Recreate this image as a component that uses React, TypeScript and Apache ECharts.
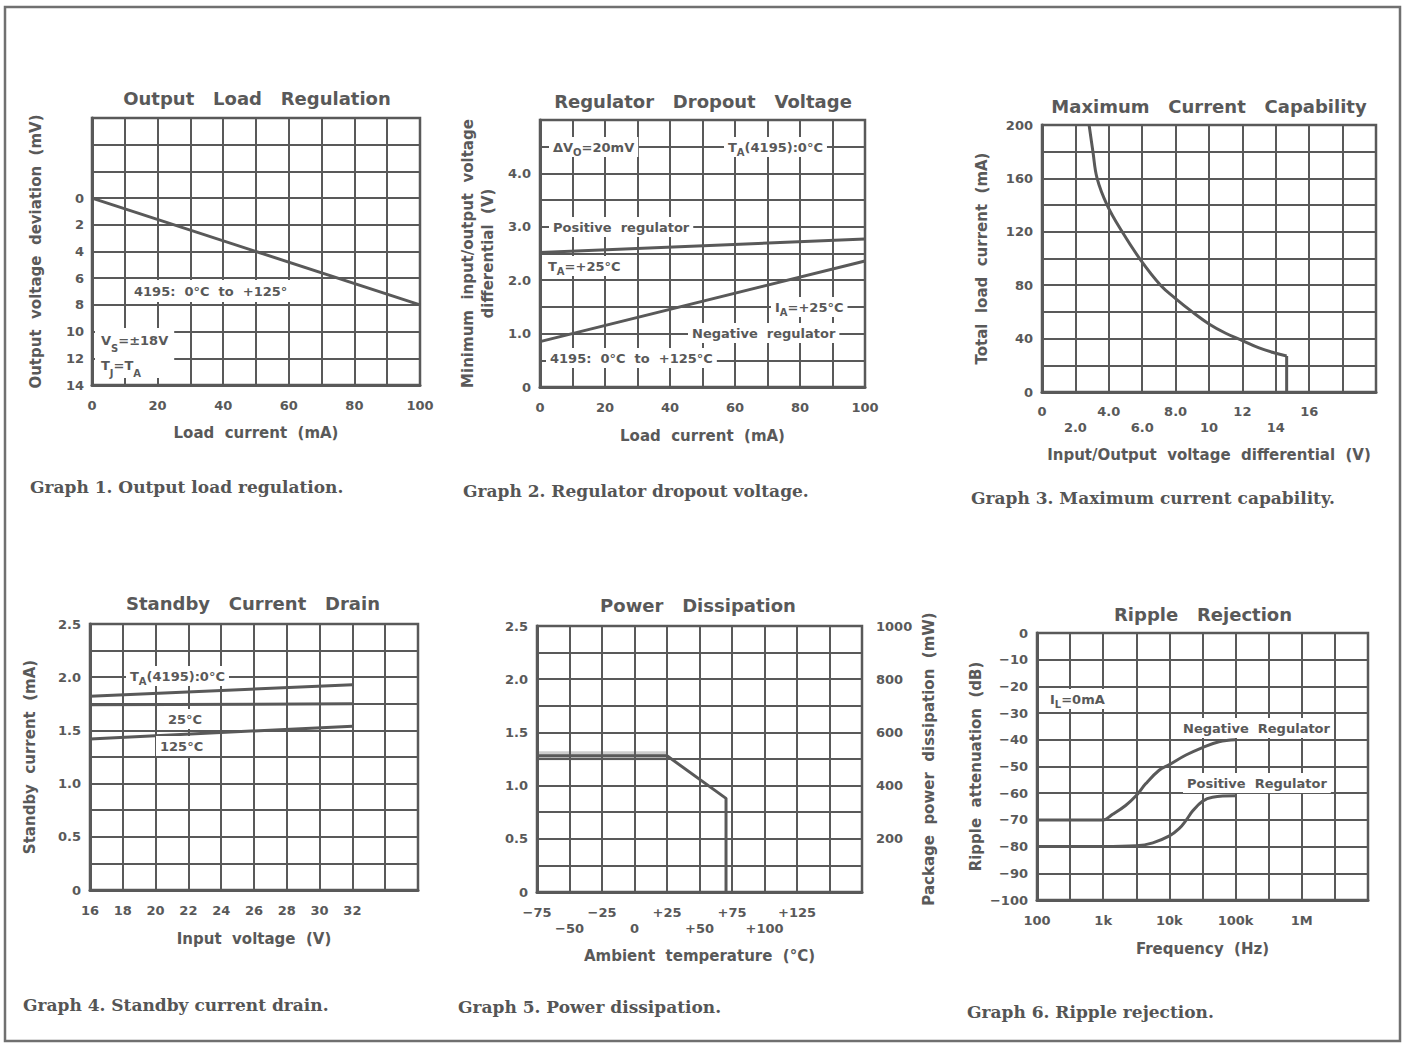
import React, { useEffect, useRef } from "react";
import * as echarts from "echarts";

const INK = "#595959";
const SANS = "'DejaVu Sans', Verdana, sans-serif";
const SERIF = "'DejaVu Serif', serif";

// ---------- Graph 1: Output load regulation
const g1Current = [0, 100];
const g1Deviation = [0, 8];
const g1XTicks = [0, 20, 40, 60, 80, 100];
const g1YTicks = [0, 2, 4, 6, 8, 10, 12, 14];

// ---------- Graph 2: Regulator dropout voltage
const g2Current = [0, 100];
const g2Positive = [2.52, 2.77];
const g2Negative = [0.85, 2.36];
const g2XTicks = [0, 20, 40, 60, 80, 100];
const g2YTickValues = [0, 1, 2, 3, 4];
const g2YTickLabels = ["0", "1.0", "2.0", "3.0", "4.0"];

// ---------- Graph 3: Maximum current capability
const g3Voltage = [2.82, 3.05, 3.3, 3.9, 4.8, 5.9, 7.1, 8.0, 9.0, 10.0, 11.0, 12.0, 13.0, 14.0, 14.65];
const g3Current = [200, 180, 160, 140, 120, 99, 80, 70, 60, 51, 44, 38.5, 33, 29, 27];
const g3LimitVoltage = [14.65, 14.65];
const g3LimitCurrent = [27, 0];
const g3XTickValues = [0, 2, 4, 6, 8, 10, 12, 14, 16];
const g3XTickLabels = ["0", "2.0", "4.0", "6.0", "8.0", "10", "12", "14", "16"];
const g3YTicks = [0, 40, 80, 120, 160, 200];

// ---------- Graph 4: Standby current drain
const g4Voltage = [16, 32];
const g4Ta0 = [1.82, 1.93];
const g4Ta25 = [1.74, 1.75];
const g4Ta125 = [1.42, 1.54];
const g4XTicks = [16, 18, 20, 22, 24, 26, 28, 30, 32];
const g4YTickValues = [0, 0.5, 1, 1.5, 2, 2.5];
const g4YTickLabels = ["0", "0.5", "1.0", "1.5", "2.0", "2.5"];

// ---------- Graph 5: Power dissipation
const g5Temp = [-75, 25, 70.4, 70.4];
const g5Power = [1.28, 1.28, 0.88, 0];
const g5XTickValues = [-75, -50, -25, 0, 25, 50, 75, 100, 125];
const g5XTickLabels = ["\u221275", "\u221250", "\u221225", "0", "+25", "+50", "+75", "+100", "+125"];
const g5YTickValues = [0, 0.5, 1, 1.5, 2, 2.5];
const g5YTickLabels = ["0", "0.5", "1.0", "1.5", "2.0", "2.5"];
const g5RightTicks = [200, 400, 600, 800, 1000];

// ---------- Graph 6: Ripple rejection
const g6NegFreq = [100, 1000, 1370, 2180, 3160, 4370, 6930, 10000, 17800, 31600, 56200, 100000];
const g6NegAtten = [-70, -70, -68, -64.6, -60.9, -56.5, -51.5, -49.3, -45.7, -42.9, -40.7, -40];
const g6PosFreq = [100, 1000, 3160, 5620, 10000, 14000, 17800, 22400, 31600, 44700, 100000];
const g6PosAtten = [-80, -80, -79.7, -78.6, -76, -73.3, -70.2, -66.7, -63, -61.5, -61];
const g6XTickValues = [2, 3, 4, 5, 6];
const g6XTickLabels = ["100", "1k", "10k", "100k", "1M"];

const zip = (xs: number[], ys: number[]) => xs.map((x, i) => [x, ys[i]]);

const pick = (values: number[], labels: string[], stagger = false) => (v: number) => {
  const i = values.findIndex((t) => Math.abs(t - v) < 1e-6);
  if (i < 0) return "";
  return (stagger && i % 2 === 1 ? "\n" : "") + labels[i];
};

function axis(o: any) {
  return {
    type: "value",
    gridIndex: o.grid,
    min: o.min,
    max: o.max,
    interval: o.interval,
    inverse: !!o.inverse,
    position: o.position,
    name: o.name,
    nameLocation: "middle",
    nameGap: o.nameGap,
    nameRotate: o.nameRotate,
    nameTextStyle: { color: INK, fontFamily: SANS, fontWeight: "bold", fontSize: 15, lineHeight: 20 },
    axisLine: { show: o.line !== false, onZero: false, lineStyle: { color: INK, width: 3 } },
    axisTick: { show: false },
    splitLine: { show: o.split !== false, lineStyle: { color: INK, width: 2 } },
    axisLabel: {
      color: INK,
      fontFamily: SANS,
      fontWeight: "bold",
      fontSize: 13,
      margin: o.margin ?? 9,
      lineHeight: 16,
      formatter: o.fmt,
      showMinLabel: true,
      showMaxLabel: true,
    },
  };
}

const RICH = {
  sub: { font: `bold 10px ${SANS}`, fill: INK, verticalAlign: "bottom", lineHeight: 11 },
};

function note(x: number, y: number, text: string, extra: any = {}) {
  return {
    type: "text",
    x,
    y,
    z: 100,
    style: {
      text,
      fill: INK,
      font: `bold 13px ${SANS}`,
      lineHeight: 20,
      align: "left",
      textAlign: "left",
      verticalAlign: "middle",
      textVerticalAlign: "middle",
      backgroundColor: "#ffffff",
      padding: [0, 4],
      rich: RICH,
      ...extra,
    },
  };
}

function title(x: number, y: number, text: string) {
  return {
    type: "text",
    x,
    y,
    z: 100,
    style: {
      text,
      fill: INK,
      font: `bold 18px ${SANS}`,
      align: "center",
      textAlign: "center",
      verticalAlign: "middle",
      textVerticalAlign: "middle",
    },
  };
}

function caption(x: number, y: number, text: string) {
  return {
    type: "text",
    x,
    y,
    z: 100,
    style: {
      text,
      fill: "#555555",
      fontFamily: SERIF,
      fontWeight: "bold",
      fontSize: 17,
      align: "left",
      textAlign: "left",
      verticalAlign: "middle",
      textVerticalAlign: "middle",
    },
  };
}

function line(xi: number, yi: number, data: number[][], extra: any = {}) {
  return {
    type: "line",
    xAxisIndex: xi,
    yAxisIndex: yi,
    data,
    showSymbol: false,
    symbol: "none",
    lineStyle: { color: INK, width: 3 },
    z: 5,
    ...extra,
  };
}

export default function App() {
  const ref = useRef<HTMLDivElement>(null);

  useEffect(() => {
    document.body.style.margin = "0";
    const chart = echarts.init(ref.current!, undefined, { renderer: "svg" });

    const gridBase = { show: true, borderColor: INK, borderWidth: 2.5, containLabel: false };
    const option: any = {
      animation: false,
      backgroundColor: "#ffffff",
      grid: [
        { ...gridBase, left: 92, top: 118, width: 328, height: 267 },
        { ...gridBase, left: 540, top: 120, width: 325, height: 267 },
        { ...gridBase, left: 1042, top: 125, width: 334, height: 267 },
        { ...gridBase, left: 90, top: 624, width: 328, height: 266 },
        { ...gridBase, left: 537, top: 626, width: 325, height: 266 },
        { ...gridBase, left: 1037, top: 633, width: 331, height: 267 },
      ],
      xAxis: [
        axis({ grid: 0, min: 0, max: 100, interval: 10, margin: 12, fmt: pick(g1XTicks, g1XTicks.map(String)), name: "Load  current  (mA)", nameGap: 38 }),
        axis({ grid: 1, min: 0, max: 100, interval: 10, margin: 12, fmt: pick(g2XTicks, g2XTicks.map(String)), name: "Load  current  (mA)", nameGap: 39 }),
        axis({ grid: 2, min: 0, max: 20, interval: 2, margin: 11, fmt: pick(g3XTickValues, g3XTickLabels, true), name: "Input/Output  voltage  differential  (V)", nameGap: 53 }),
        axis({ grid: 3, min: 16, max: 36, interval: 2, margin: 12, fmt: pick(g4XTicks, g4XTicks.map(String)), name: "Input  voltage  (V)", nameGap: 39 }),
        axis({ grid: 4, min: -75, max: 175, interval: 25, margin: 12, fmt: pick(g5XTickValues, g5XTickLabels, true), name: "Ambient  temperature  (\u00b0C)", nameGap: 54 }),
        axis({ grid: 5, min: 2, max: 7, interval: 0.5, margin: 12, fmt: pick(g6XTickValues, g6XTickLabels), name: "Frequency  (Hz)", nameGap: 39 }),
      ],
      yAxis: [
        axis({ grid: 0, min: -6, max: 14, interval: 2, inverse: true, margin: 8, fmt: pick(g1YTicks, g1YTicks.map(String)), name: "Output  voltage  deviation  (mV)", nameGap: 46 }),
        axis({ grid: 1, min: 0, max: 5, interval: 0.5, margin: 9, fmt: pick(g2YTickValues, g2YTickLabels), name: "Minimum  input/output  voltage\ndifferential  (V)", nameGap: 42 }),
        axis({ grid: 2, min: 0, max: 200, interval: 20, margin: 9, fmt: pick(g3YTicks, g3YTicks.map(String)), name: "Total  load  current  (mA)", nameGap: 50 }),
        axis({ grid: 3, min: 0, max: 2.5, interval: 0.25, margin: 9, fmt: pick(g4YTickValues, g4YTickLabels), name: "Standby  current  (mA)", nameGap: 50 }),
        axis({ grid: 4, min: 0, max: 2.5, interval: 0.25, margin: 9, fmt: pick(g5YTickValues, g5YTickLabels) }),
        axis({ grid: 5, min: -100, max: 0, interval: 10, margin: 9, fmt: (v: number) => (v === 0 ? "0" : "\u2212" + Math.abs(v)), name: "Ripple  attenuation  (dB)", nameGap: 50 }),
        axis({ grid: 4, min: 0, max: 1000, interval: 100, position: "right", line: false, split: false, margin: 14, fmt: pick(g5RightTicks, g5RightTicks.map(String)), name: "Package  power  dissipation  (mW)", nameGap: 57, nameRotate: 90 }),
      ],
      series: [
        line(0, 0, zip(g1Current, g1Deviation)),
        line(1, 1, zip(g2Current, g2Positive)),
        line(1, 1, zip(g2Current, g2Negative)),
        line(2, 2, zip(g3Voltage, g3Current), { smooth: 0.4 }),
        line(2, 2, zip(g3LimitVoltage, g3LimitCurrent)),
        line(3, 3, zip(g4Voltage, g4Ta0)),
        line(3, 3, zip(g4Voltage, g4Ta25)),
        line(3, 3, zip(g4Voltage, g4Ta125)),
        line(4, 4, zip(g5Temp.slice(0, 2), g5Power.slice(0, 2)), { lineStyle: { color: "rgba(90,90,90,0.3)", width: 9 }, z: 4 }),
        line(4, 4, zip(g5Temp, g5Power)),
        line(5, 5, zip(g6NegFreq.map(Math.log10), g6NegAtten), { smooth: 0.4 }),
        line(5, 5, zip(g6PosFreq.map(Math.log10), g6PosAtten), { smooth: 0.4 }),
      ],
      graphic: [
        {
          type: "rect",
          z: 100,
          shape: { x: 5, y: 7, width: 1395, height: 1034 },
          style: { fill: "none", stroke: "#707070", lineWidth: 2.5 },
        },
        title(257, 98, "Output   Load   Regulation"),
        title(703, 101, "Regulator   Dropout   Voltage"),
        title(1209, 106, "Maximum   Current   Capability"),
        title(253, 603, "Standby   Current   Drain"),
        title(698, 605, "Power   Dissipation"),
        title(1203, 614, "Ripple   Rejection"),

        note(128, 291, "4195:  0\u00b0C  to  +125\u00b0", { padding: [1, 6] }),
        note(95, 353, "V{sub|S}=\u00b118V\nT{sub|J}=T{sub|A}", { lineHeight: 25, padding: [0, 6] }),

        note(549, 147, "\u0394V{sub|O}=20mV"),
        note(724, 147, "T{sub|A}(4195):0\u00b0C"),
        note(549, 227, "Positive  regulator"),
        note(544, 266, "T{sub|A}=+25\u00b0C"),
        note(771, 307, "I{sub|A}=+25\u00b0C"),
        note(688, 333, "Negative  regulator"),
        note(546, 358, "4195:  0\u00b0C  to  +125\u00b0C"),

        note(126, 676, "T{sub|A}(4195):0\u00b0C"),
        note(164, 719, "25\u00b0C"),
        note(156, 746, "125\u00b0C"),

        note(1046, 699, "I{sub|L}=0mA"),
        note(1179, 728, "Negative  Regulator"),
        note(1183, 783, "Positive  Regulator"),

        caption(30, 487, "Graph 1. Output load regulation."),
        caption(463, 491, "Graph 2. Regulator dropout voltage."),
        caption(971, 498, "Graph 3. Maximum current capability."),
        caption(23, 1005, "Graph 4. Standby current drain."),
        caption(458, 1007, "Graph 5. Power dissipation."),
        caption(967, 1012, "Graph 6. Ripple rejection."),
      ],
    };

    chart.setOption(option);
    return () => chart.dispose();
  }, []);

  return (
    <div
      ref={ref}
      style={{ position: "absolute", left: 0, top: 0, width: 1408, height: 1043, background: "#fff" }}
    />
  );
}
